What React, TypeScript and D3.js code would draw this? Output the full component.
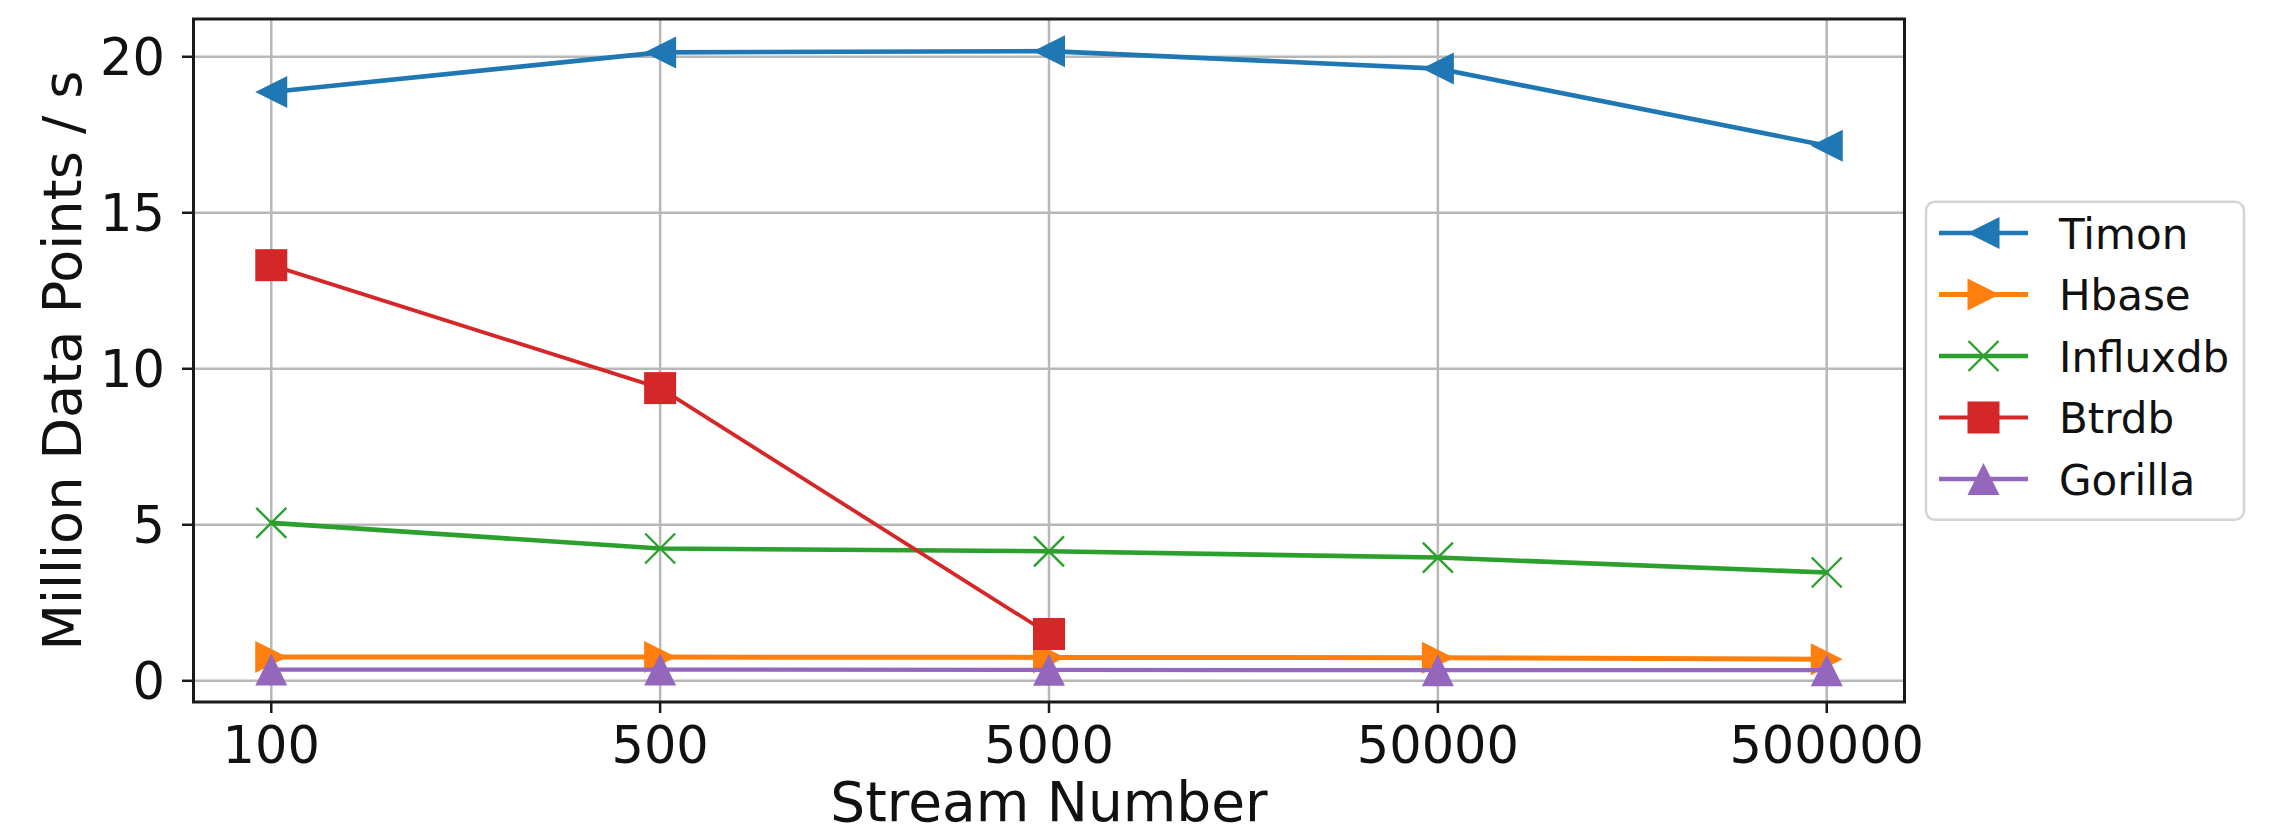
import React, { useEffect } from "react";
import * as d3 from "d3";

// stream counts on the x axis (categorical, evenly spaced)
const streams = ["100", "500", "5000", "50000", "500000"];
const yTicks = [0, 5, 10, 15, 20];

// million data points per second
const timon = [18.87, 20.14, 20.18, 19.62, 17.15];
const hbase = [0.76, 0.76, 0.75, 0.74, 0.69];
const influxdb = [5.06, 4.24, 4.15, 3.95, 3.47];
const btrdb = [13.32, 9.38, 1.5];
const gorilla = [0.36, 0.36, 0.35, 0.34, 0.34];

const seriesNames = ["Timon", "Hbase", "Influxdb", "Btrdb", "Gorilla"];
const seriesValues = [timon, hbase, influxdb, btrdb, gorilla];
const colors = ["#1f77b4", "#ff7f0e", "#2ca02c", "#d62728", "#9467bd"];
const markers = ["tri-left", "tri-right", "x", "square", "tri-up"];
const widths = [4.6, 5, 4.6, 3.8, 4.3];

const W = 2284;
const H = 835;
const left = 193.5, right = 1904.5, top = 19, bottom = 702;
const FONT = "DejaVu Sans, sans-serif";

function Marker({ kind, x, y, color }) {
  const s = 16;
  if (kind === "square") {
    return <rect x={x - s} y={y - s} width={2 * s} height={2 * s} fill={color} />;
  }
  if (kind === "x") {
    const r = 15;
    return (
      <path
        d={`M${x - r},${y - r}L${x + r},${y + r}M${x - r},${y + r}L${x + r},${y - r}`}
        stroke={color}
        strokeWidth={2.4}
        fill="none"
      />
    );
  }
  let d = "";
  if (kind === "tri-left") d = `M${x - s},${y}L${x + s},${y - s}L${x + s},${y + s}Z`;
  if (kind === "tri-right") d = `M${x + s},${y}L${x - s},${y - s}L${x - s},${y + s}Z`;
  if (kind === "tri-up") d = `M${x},${y - s}L${x + s},${y + s}L${x - s},${y + s}Z`;
  return <path d={d} fill={color} />;
}

export default function App() {
  useEffect(() => {
    document.body.style.margin = "0";
  }, []);

  const x = d3.scaleLinear().domain([-0.2, streams.length - 1 + 0.2]).range([left, right]);
  const y = d3.scaleLinear().domain([-0.68, 21.21]).range([bottom, top]);
  const line = d3
    .line<number>()
    .x((_, i) => x(i))
    .y((d) => y(d));

  const legendX = 1926, legendY = 201.7, legendW = 318, legendH = 318;
  const rowGap = 61.5;

  return (
    <svg width={W} height={H} style={{ display: "block", fontFamily: FONT }}>
      <rect width={W} height={H} fill="#fff" />

      {/* grid */}
      <g stroke="#b8b8b8" strokeWidth={2.5}>
        {streams.map((s, i) => (
          <line key={s} x1={x(i)} x2={x(i)} y1={top} y2={bottom} />
        ))}
        {yTicks.map((t) => (
          <line key={t} x1={left} x2={right} y1={y(t)} y2={y(t)} />
        ))}
      </g>

      {/* series */}
      {seriesValues.map((vals, k) => (
        <g key={seriesNames[k]}>
          <path
            d={line(vals) || ""}
            fill="none"
            stroke={colors[k]}
            strokeWidth={widths[k]}
            strokeLinejoin="round"
            strokeLinecap="round"
          />
          {vals.map((v, i) => (
            <Marker key={i} kind={markers[k]} x={x(i)} y={y(v)} color={colors[k]} />
          ))}
        </g>
      ))}

      {/* frame */}
      <rect
        x={left}
        y={top}
        width={right - left}
        height={bottom - top}
        fill="none"
        stroke="#1a1a1a"
        strokeWidth={3}
      />

      {/* x axis */}
      <g>
        {streams.map((s, i) => (
          <g key={s}>
            <line x1={x(i)} x2={x(i)} y1={bottom} y2={bottom + 11} stroke="#1a1a1a" strokeWidth={2.5} />
            <text x={x(i)} y={763} textAnchor="middle" fontSize={51} fill="#111">
              {s}
            </text>
          </g>
        ))}
        <text x={(left + right) / 2} y={821} textAnchor="middle" fontSize={55} fill="#111">
          Stream Number
        </text>
      </g>

      {/* y axis */}
      <g>
        {yTicks.map((t) => (
          <g key={t}>
            <line x1={left - 11.5} x2={left} y1={y(t)} y2={y(t)} stroke="#1a1a1a" strokeWidth={2.5} />
            <text x={165} y={y(t) + 18.5} textAnchor="end" fontSize={51} fill="#111">
              {t}
            </text>
          </g>
        ))}
        <text
          transform={`translate(81,${(top + bottom) / 2}) rotate(-90)`}
          textAnchor="middle"
          fontSize={54}
          fill="#111"
        >
          Million Data Points / s
        </text>
      </g>

      {/* legend */}
      <g>
        <rect
          x={legendX}
          y={legendY}
          width={legendW}
          height={legendH}
          rx={9}
          fill="#fff"
          fillOpacity={0.8}
          stroke="#d4d4d4"
          strokeWidth={2.5}
        />
        {seriesNames.map((name, k) => {
          const cy = 233 + k * rowGap;
          return (
            <g key={name}>
              <line x1={1939} x2={2028} y1={cy} y2={cy} stroke={colors[k]} strokeWidth={widths[k]} />
              <Marker kind={markers[k]} x={1983.5} y={cy} color={colors[k]} />
              <text x={2059} y={cy + 15.5} fontSize={42} fill="#111">
                {name}
              </text>
            </g>
          );
        })}
      </g>
    </svg>
  );
}
